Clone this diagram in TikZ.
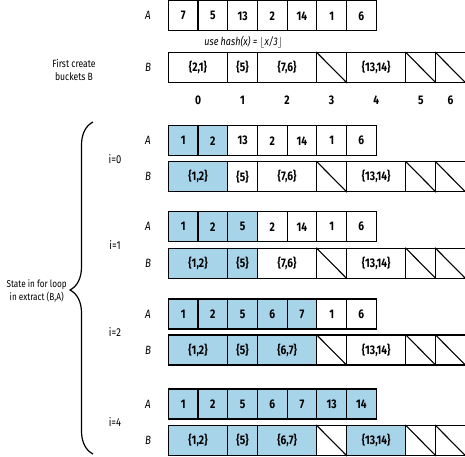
\documentclass[tikz,border=0pt]{standalone}
\usepackage{fontspec}
\setmainfont[FakeStretch=0.82]{Fira Sans}
\usetikzlibrary{positioning,decorations.pathreplacing}
\definecolor{done}{HTML}{A8D4EA}

\tikzset{
  cell/.style={draw, line width=1.1pt, minimum height=30pt, inner sep=0pt,
    font=\bfseries\fontsize{12.5}{14}\selectfont},
  acell/.style={cell, minimum width=29.7pt},
  index/.style={font=\bfseries\fontsize{12.5}{14}\selectfont},
  rowname/.style={font=\itshape\fontsize{12}{14}\selectfont},
  step label/.style={font=\fontsize{11.5}{14}\selectfont},
  note/.style={font=\fontsize{10.5}{13.5}\selectfont, align=center, inner sep=0pt},
}

\begin{document}
\begin{tikzpicture}[x=1pt, y=-1pt]
\useasboundingbox (0,0) rectangle (465,456);

% first create buckets
\node[rowname] (la0) at (148,15.8) {A};
\node[rowname] (lb0) at (148,67.5) {B};
\node[note] (first) at (74,70) {First create\\buckets B};
\node[font=\itshape\fontsize{11}{13}\selectfont] (hash) at (243.5,42)
  {use hash(x) = $\lfloor$x/3$\rfloor$};
\foreach \v/\f [count=\i] in {7/white,5/white,13/white,2/white,14/white,1/white,6/white}
  \node[acell, fill=\f] (a0-\i) at ({168.3+29.7*\i-14.85},15.8) {\v};
\foreach \j/\m/\w/\t/\f in {0/1/2/{\{2,1\}}/white, 1/2.5/1/{\{5\}}/white,
    2/4/2/{\{7,6\}}/white, 3/5.5/1/{}/white, 4/7/2/{\{13,14\}}/white,
    5/8.5/1/{}/white, 6/9.5/1/{}/white}
  \node[cell, minimum width=\w*29.7pt, fill=\f] (b0-\j) at ({168.3+29.7*\m},67.5) {\t};
\foreach \j in {0,...,6}
  \node[index, below=9pt of b0-\j] (n\j) {\j};

% i=0
\node[rowname] (la1) at (148,140.7) {A};
\node[rowname] (lb1) at (148,176.7) {B};
\node[step label] (s1) at (115,158.7) {i=0};
\foreach \v/\f [count=\i] in {1/done,2/done,13/white,2/white,14/white,1/white,6/white}
  \node[acell, fill=\f] (a1-\i) at ({168.3+29.7*\i-14.85},140.7) {\v};
\foreach \j/\m/\w/\t/\f in {0/1/2/{\{1,2\}}/done, 1/2.5/1/{\{5\}}/white,
    2/4/2/{\{7,6\}}/white, 3/5.5/1/{}/white, 4/7/2/{\{13,14\}}/white,
    5/8.5/1/{}/white, 6/9.5/1/{}/white}
  \node[cell, minimum width=\w*29.7pt, fill=\f] (b1-\j) at ({168.3+29.7*\m},176.7) {\t};

% i=1
\node[rowname] (la2) at (148,226.7) {A};
\node[rowname] (lb2) at (148,263.3) {B};
\node[step label] (s2) at (115,245) {i=1};
\foreach \v/\f [count=\i] in {1/done,2/done,5/done,2/white,14/white,1/white,6/white}
  \node[acell, fill=\f] (a2-\i) at ({168.3+29.7*\i-14.85},226.7) {\v};
\foreach \j/\m/\w/\t/\f in {0/1/2/{\{1,2\}}/done, 1/2.5/1/{\{5\}}/done,
    2/4/2/{\{7,6\}}/white, 3/5.5/1/{}/white, 4/7/2/{\{13,14\}}/white,
    5/8.5/1/{}/white, 6/9.5/1/{}/white}
  \node[cell, minimum width=\w*29.7pt, fill=\f] (b2-\j) at ({168.3+29.7*\m},263.3) {\t};

% i=2
\node[rowname] (la3) at (148,314) {A};
\node[rowname] (lb3) at (148,350) {B};
\node[step label] (s3) at (115,332) {i=2};
\foreach \v/\f [count=\i] in {1/done,2/done,5/done,6/done,7/done,1/white,6/white}
  \node[acell, fill=\f] (a3-\i) at ({168.3+29.7*\i-14.85},314) {\v};
\foreach \j/\m/\w/\t/\f in {0/1/2/{\{1,2\}}/done, 1/2.5/1/{\{5\}}/done,
    2/4/2/{\{6,7\}}/done, 3/5.5/1/{}/white, 4/7/2/{\{13,14\}}/white,
    5/8.5/1/{}/white, 6/9.5/1/{}/white}
  \node[cell, minimum width=\w*29.7pt, fill=\f] (b3-\j) at ({168.3+29.7*\m},350) {\t};

% i=4
\node[rowname] (la4) at (148,404) {A};
\node[rowname] (lb4) at (148,440.5) {B};
\node[step label] (s4) at (115,422.5) {i=4};
\foreach \v/\f [count=\i] in {1/done,2/done,5/done,6/done,7/done,13/done,14/done}
  \node[acell, fill=\f] (a4-\i) at ({168.3+29.7*\i-14.85},404) {\v};
\foreach \j/\m/\w/\t/\f in {0/1/2/{\{1,2\}}/done, 1/2.5/1/{\{5\}}/done,
    2/4/2/{\{6,7\}}/done, 3/5.5/1/{}/white, 4/7/2/{\{13,14\}}/done,
    5/8.5/1/{}/white, 6/9.5/1/{}/white}
  \node[cell, minimum width=\w*29.7pt, fill=\f] (b4-\j) at ({168.3+29.7*\m},440.5) {\t};

% empty buckets
\foreach \r in {0,...,4}
  \foreach \j in {3,5,6}
    \draw[line width=1.1pt] (b\r-\j.north west) -- (b\r-\j.south east);

% brace
\coordinate (brace-bot) at (93,454);
\coordinate (brace-top) at (93,122);
\draw[line width=1.2pt, decorate, decoration={brace, amplitude=23pt, aspect=0.494}]
  (brace-bot) -- (brace-top);
\node[note, font=\fontsize{10}{13}\selectfont, anchor=east] (state) at (67,291)
  {State in for loop\\in extract (B,A)};
\end{tikzpicture}
\end{document}
